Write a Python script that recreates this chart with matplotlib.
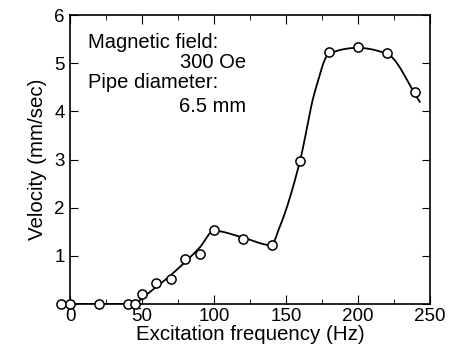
import numpy as np
import matplotlib
matplotlib.use('Agg')
import matplotlib.pyplot as plt
from matplotlib.ticker import MultipleLocator

plt.rcParams['font.family'] = ['Liberation Sans', 'DejaVu Sans']

# measured points
freq = [-6, 0, 20, 40, 45, 50, 60, 70, 80, 90, 100, 120, 140, 160, 180, 200, 220, 240]
velocity = [0, 0, 0, 0, 0, 0.2, 0.43, 0.52, 0.93, 1.03, 1.53, 1.35, 1.22, 2.97, 5.23, 5.33, 5.21, 4.4]

# hand-drawn guide curve knots
curve_f = [0, 45, 50, 70, 90, 100, 120, 140, 145, 150, 160, 170, 180, 200, 220, 243]
curve_v = [0, 0, 0.12, 0.6, 1.17, 1.52, 1.38, 1.22, 1.55, 1.95, 3.0, 4.4, 5.2, 5.32, 5.2, 4.2]


def pchip(x, y, xs):
    x = np.asarray(x, float)
    y = np.asarray(y, float)
    h = np.diff(x)
    d = np.diff(y) / h
    m = np.zeros_like(y)
    for k in range(1, len(x) - 1):
        if d[k - 1] * d[k] > 0:
            w1 = 2 * h[k] + h[k - 1]
            w2 = h[k] + 2 * h[k - 1]
            m[k] = (w1 + w2) / (w1 / d[k - 1] + w2 / d[k])
    m[0] = d[0]
    m[-1] = d[-1]
    idx = np.clip(np.searchsorted(x, xs) - 1, 0, len(x) - 2)
    t = (xs - x[idx]) / h[idx]
    h00 = 2 * t**3 - 3 * t**2 + 1
    h10 = t**3 - 2 * t**2 + t
    h01 = -2 * t**3 + 3 * t**2
    h11 = t**3 - t**2
    return (h00 * y[idx] + h10 * h[idx] * m[idx]
            + h01 * y[idx + 1] + h11 * h[idx] * m[idx + 1])


fig = plt.figure(figsize=(4.52, 3.51), dpi=100)
ax = fig.add_axes([0.155, 0.134, 0.796, 0.823])

xs = np.linspace(curve_f[0], curve_f[-1], 400)
ax.plot(xs, pchip(curve_f, curve_v, xs), color='black', lw=1.3, zorder=2)
ax.plot(freq, velocity, 'o', ms=6.6, mfc='white', mec='black', mew=1.1,
        clip_on=False, zorder=3)

ax.set_xlim(0, 250)
ax.set_ylim(0, 6)
ax.xaxis.set_major_locator(MultipleLocator(50))
ax.xaxis.set_minor_locator(MultipleLocator(25))
ax.tick_params(axis='x', which='both', direction='in', top=True, labelsize=13.5, pad=3)
ax.tick_params(axis='x', which='major', length=6.5)
ax.tick_params(axis='x', which='minor', length=3.5)
ax.tick_params(axis='y', direction='in', right=True, length=6, labelsize=13.5, pad=4)
for s in ax.spines.values():
    s.set_linewidth(1.2)

ax.set_yticks([0, 1, 2, 3, 4, 5, 6])
ax.set_yticklabels(['', '1', '2', '3', '4', '5', '6'])
ax.set_xlabel('Excitation frequency (Hz)', fontsize=14.8, labelpad=0)
ax.set_ylabel('Velocity (mm/sec)', fontsize=14.8, labelpad=5)

ax.text(12.5, 5.31, 'Magnetic field:', fontsize=14.5, va='baseline')
ax.text(122, 4.90, '300 Oe', fontsize=14.5, ha='right', va='baseline')
ax.text(12.5, 4.48, 'Pipe diameter:', fontsize=14.5, va='baseline')
ax.text(122, 3.99, '6.5 mm', fontsize=14.5, ha='right', va='baseline')

fig.savefig('out.png', dpi=100)
